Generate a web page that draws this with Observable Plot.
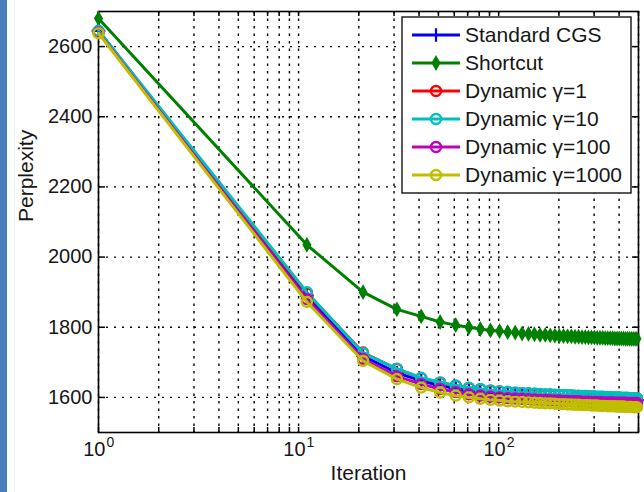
<!DOCTYPE html>
<html>
<head>
<meta charset="utf-8">
<script src="https://cdn.jsdelivr.net/npm/d3@7"></script>
<script src="https://cdn.jsdelivr.net/npm/@observablehq/plot@0.6"></script>
<style>
  html, body { margin: 0; padding: 0; background: #fff; }
  #wrap { position: relative; width: 644px; height: 492px; overflow: hidden; background: #fff; }
  #chart { position: absolute; left: 0; top: 0; }
  #bar { position: absolute; left: 0; top: 0; width: 7px; height: 492px; background: #4a7ebb; }
  #edge { position: absolute; left: 14px; top: 0; width: 1px; height: 492px; background: #edf0f4; }
</style>
</head>
<body>
<div id="wrap"><div id="chart"></div><div id="bar"></div><div id="edge"></div></div>
<script>
// Gibbs sampling iterations at which perplexity was recorded
const iterations = [
  1, 11, 21, 31, 41, 51, 61, 71, 81, 91,
  101, 111, 121, 131, 141, 151, 161, 171, 181, 191,
  201, 211, 221, 231, 241, 251, 261, 271, 281, 291,
  301, 311, 321, 331, 341, 351, 361, 371, 381, 391,
  401, 411, 421, 431, 441, 451, 461, 471, 481, 491
];

const standardCGS = [
  2645, 1890, 1718, 1670, 1647, 1634, 1625, 1619, 1615, 1612,
  1610, 1608, 1607, 1606, 1605, 1604, 1603, 1603, 1602, 1601,
  1601, 1600, 1600, 1599, 1599, 1598, 1598, 1598, 1597, 1597,
  1597, 1596, 1596, 1596, 1595, 1595, 1595, 1595, 1594, 1594,
  1594, 1594, 1593, 1593, 1593, 1593, 1593, 1592, 1592, 1592
];

const shortcut = [
  2680, 2035, 1900, 1851, 1831, 1815, 1806, 1800, 1795, 1791,
  1789, 1786, 1785, 1782, 1781, 1780, 1778, 1778, 1777, 1776,
  1775, 1775, 1774, 1774, 1773, 1773, 1772, 1772, 1771, 1771,
  1771, 1770, 1770, 1770, 1769, 1769, 1769, 1769, 1768, 1768,
  1768, 1768, 1768, 1767, 1767, 1767, 1767, 1767, 1767, 1767
];

const dynamic1 = [
  2642, 1897, 1728, 1681, 1655, 1642, 1633, 1627, 1623, 1619,
  1617, 1615, 1613, 1612, 1611, 1610, 1609, 1608, 1608, 1607,
  1606, 1606, 1605, 1605, 1604, 1604, 1603, 1603, 1603, 1602,
  1602, 1601, 1601, 1601, 1600, 1600, 1600, 1599, 1599, 1599,
  1599, 1598, 1598, 1598, 1598, 1597, 1597, 1597, 1597, 1597
];

const dynamic10 = [
  2645, 1900, 1726, 1682, 1656, 1643, 1634, 1628, 1624, 1620,
  1618, 1616, 1614, 1613, 1612, 1611, 1610, 1609, 1609, 1608,
  1607, 1607, 1606, 1606, 1605, 1605, 1604, 1604, 1603, 1603,
  1603, 1602, 1602, 1602, 1601, 1601, 1601, 1600, 1600, 1600,
  1600, 1599, 1599, 1599, 1599, 1598, 1598, 1598, 1598, 1598
];

const dynamic100 = [
  2640, 1880, 1710, 1660, 1638, 1624, 1615, 1609, 1605, 1602,
  1600, 1598, 1597, 1596, 1595, 1594, 1593, 1593, 1592, 1591,
  1591, 1590, 1590, 1589, 1589, 1589, 1588, 1588, 1588, 1587,
  1587, 1587, 1587, 1586, 1586, 1586, 1586, 1586, 1585, 1585,
  1585, 1585, 1585, 1585, 1584, 1584, 1584, 1584, 1584, 1584
];

const dynamic1000 = [
  2638, 1872, 1704, 1652, 1628, 1614, 1605, 1600, 1596, 1593,
  1591, 1589, 1588, 1587, 1586, 1585, 1584, 1583, 1583, 1582,
  1581, 1581, 1580, 1580, 1579, 1579, 1578, 1578, 1578, 1577,
  1577, 1577, 1576, 1576, 1576, 1575, 1575, 1575, 1575, 1574,
  1574, 1574, 1574, 1573, 1573, 1573, 1573, 1572, 1572, 1572
];

const seriesNames = ["Standard CGS", "Shortcut", "Dynamic \u03b3=1", "Dynamic \u03b3=10", "Dynamic \u03b3=100", "Dynamic \u03b3=1000"];
const seriesValues = [standardCGS, shortcut, dynamic1, dynamic10, dynamic100, dynamic1000];
const seriesColors = ["#0000ff", "#008000", "#ff0000", "#00bfbf", "#bf00bf", "#bfbf00"];
const seriesSymbols = ["plus", "diamond", "circle", "circle", "circle", "circle"];

const yTicks = [1600, 1800, 2000, 2200, 2400, 2600];
const xMajor = [1, 10, 100];
const xGrid = [1, 2, 3, 4, 5, 6, 7, 8, 9, 10, 20, 30, 40, 50, 60, 70, 80, 90, 100, 200, 300, 400, 500];

const W = 644, H = 492;
const mL = 98, mR = 6, mT = 11, mB = 60;
const frameW = W - mL - mR;
const frameH = H - mT - mB;
const font = "'Liberation Sans', Arial, Helvetica, sans-serif";
const ink = "#161616";

const series = seriesNames.map((name, k) => ({
  name,
  color: seriesColors[k],
  symbol: seriesSymbols[k],
  rows: iterations.map((it, i) => ({iteration: it, perplexity: seriesValues[k][i]}))
}));

const dotStyle = (s) => {
  if (s.symbol === "diamond") return {fill: s.color, stroke: s.color, strokeWidth: 1.8, r: 3.7};
  if (s.symbol === "plus") return {fill: "none", stroke: s.color, strokeWidth: 2.2, r: 4.5};
  return {fill: "none", stroke: s.color, strokeWidth: 2.4, r: 5};
};

const seriesMarks = series.flatMap((s) => [
  Plot.line(s.rows, {x: "iteration", y: "perplexity", stroke: s.color, strokeWidth: 3}),
  Plot.dot(s.rows, {x: "iteration", y: "perplexity", symbol: () => s.symbol, ...dotStyle(s)})
]);

const gridStyle = {stroke: "#000", strokeOpacity: 1, strokeWidth: 1.4};

const chart = Plot.plot({
  width: W,
  height: H,
  marginLeft: mL,
  marginRight: mR,
  marginTop: mT,
  marginBottom: mB,
  style: {fontFamily: font, fontSize: "20px", color: ink, background: "transparent"},
  x: {type: "log", domain: [1, 500], axis: null},
  y: {domain: [1500, 2700], axis: null},
  symbol: {type: "identity"},
  marks: [
    Plot.gridX(xGrid, {...gridStyle, strokeDasharray: "2.5,5"}),
    Plot.gridY(yTicks, {...gridStyle, strokeDasharray: "2,6"}),
    Plot.tickY(yTicks, {y: (d) => d, insetRight: frameW - 7, stroke: "#000", strokeWidth: 1.5}),
    Plot.tickY(yTicks, {y: (d) => d, insetLeft: frameW - 6, stroke: "#000", strokeWidth: 1.5}),
    Plot.tickX(xGrid, {x: (d) => d, insetBottom: frameH - 5, stroke: "#000", strokeWidth: 1.5}),
    Plot.tickX(xGrid, {x: (d) => d, insetTop: frameH - 5, stroke: "#000", strokeWidth: 1.5}),
    Plot.frame({stroke: "#000", strokeWidth: 1.6}),
    ...seriesMarks,
    // y tick labels
    Plot.text(yTicks, {y: (d) => d, text: (d) => String(d), frameAnchor: "left", textAnchor: "end", dx: -6, fontSize: 20, fill: ink}),
    // x tick labels as 10 with a raised exponent
    Plot.text(xMajor, {x: (d) => d, text: () => "10", frameAnchor: "bottom", textAnchor: "end", dx: 7, dy: 23, fontSize: 20, fill: ink}),
    Plot.text(xMajor, {x: (d) => d, text: (d) => String(Math.round(Math.log10(d))), frameAnchor: "bottom", textAnchor: "start", dx: 8, dy: 14, fontSize: 14, fill: ink}),
    Plot.text(["Iteration"], {text: (d) => d, frameAnchor: "bottom", dy: 47, fontSize: 21, fill: ink}),
    Plot.text(["Perplexity"], {text: (d) => d, frameAnchor: "left", rotate: -90, dx: -72, fontSize: 21, fill: ink})
  ]
});

document.getElementById("chart").appendChild(chart);

// Legend box in the upper right corner of the axes
const svg = d3.select(chart);
const lg = svg.append("g").attr("transform", "translate(402,17)");
lg.append("rect")
  .attr("width", 229).attr("height", 176)
  .attr("fill", "#fff").attr("stroke", "#000").attr("stroke-width", 1.3);
const d3Symbols = {plus: d3.symbolPlus, diamond: d3.symbolDiamond, circle: d3.symbolCircle};
series.forEach((s, i) => {
  const cy = 18 + i * 28;
  lg.append("line")
    .attr("x1", 10).attr("x2", 58).attr("y1", cy).attr("y2", cy)
    .attr("stroke", s.color).attr("stroke-width", 3);
  const st = dotStyle(s);
  lg.append("path")
    .attr("d", d3.symbol(d3Symbols[s.symbol], Math.PI * st.r * st.r)())
    .attr("transform", `translate(34,${cy})`)
    .attr("fill", st.fill).attr("stroke", st.stroke).attr("stroke-width", st.strokeWidth);
  lg.append("text")
    .attr("x", 63).attr("y", cy).attr("dy", "0.35em")
    .attr("text-anchor", "start")
    .attr("font-family", font).attr("font-size", 21).attr("fill", ink)
    .text(s.name);
});
</script>
</body>
</html>
